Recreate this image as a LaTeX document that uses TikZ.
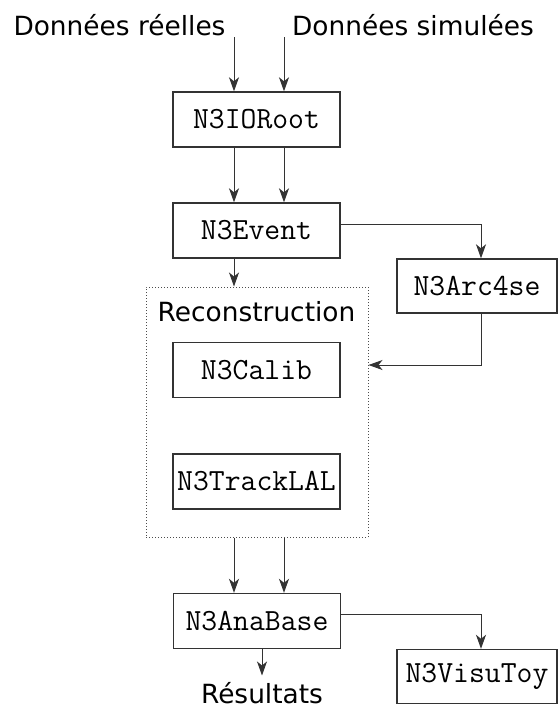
\documentclass[tikz,border=0pt]{standalone}
\usepackage{fontspec}
\setmainfont{DejaVu Sans}
\usetikzlibrary{positioning, arrows.meta, calc}

\begin{document}
\begin{tikzpicture}[x=0.5pt, y=-0.5pt,
    cls/.style={draw=black!80, line width=0.7pt, minimum width=83.5pt, minimum height=27.5pt, inner sep=0pt, font=\ttfamily\fontsize{15.4}{18}\selectfont},
    clsr/.style={cls, minimum width=80pt, minimum height=27pt},
    lbl/.style={font=\fontsize{13.2}{16}\selectfont, inner sep=0pt},
    arr/.style={draw=black!80, line width=0.5pt, -{Stealth[length=7pt, width=5pt, inset=2pt]}}]
    \useasboundingbox (0,0) rectangle (559,708);
    \node[lbl, anchor=base] (reel) at (119.5,35) {Données réelles};
    \node[lbl, anchor=base] (simu) at (413,35) {Données simulées};
    \coordinate (inA) at (234,37);
    \coordinate (inB) at (284,37);
    \node[cls] (ioroot) at (256.5,119.5) {N3IORoot};
    \node[cls] (event) at (256.5,230.5) {N3Event};
    \node[clsr] (arc) at (477,286) {N3Arc4se};
    \node[draw=black!70, densely dotted, line width=0.5pt, minimum width=111pt, minimum height=125pt, inner sep=0pt] (reco) at (257,412) {};
    \node[lbl] (recolbl) at (256.5,312) {Reconstruction};
    \node[cls] (calib) at (256.5,370) {N3Calib};
    \node[cls] (track) at (256.5,481.5) {N3TrackLAL};
    \node[cls] (ana) at (257,621) {N3AnaBase};
    \node[clsr] (visu) at (477,676.5) {N3VisuToy};
    \node[lbl, anchor=base] (res) at (262,703) {Résultats};

    \foreach \c in {inA, inB} {
        \draw[arr] (\c) -- (\c |- ioroot.north);
        \draw[arr] (\c |- ioroot.south) -- (\c |- event.north);
        \draw[arr] (\c |- reco.south) -- (\c |- ana.north);
    }
    \draw[arr] (inA |- event.south) -- (inA |- reco.north);
    \draw[arr] ($(event.east)+(0,-6.5)$) -| ($(arc.north)+(4,0)$);
    \draw[arr] ($(arc.south)+(4,0)$) |- ($(reco.east |- calib)+(0,-5)$);
    \draw[arr] ($(ana.east)+(0,-7)$) -| ($(visu.north)+(4,0)$);
    \draw[arr, shorten >=3pt] (res.north |- ana.south) -- (res.north);
\end{tikzpicture}
\end{document}
